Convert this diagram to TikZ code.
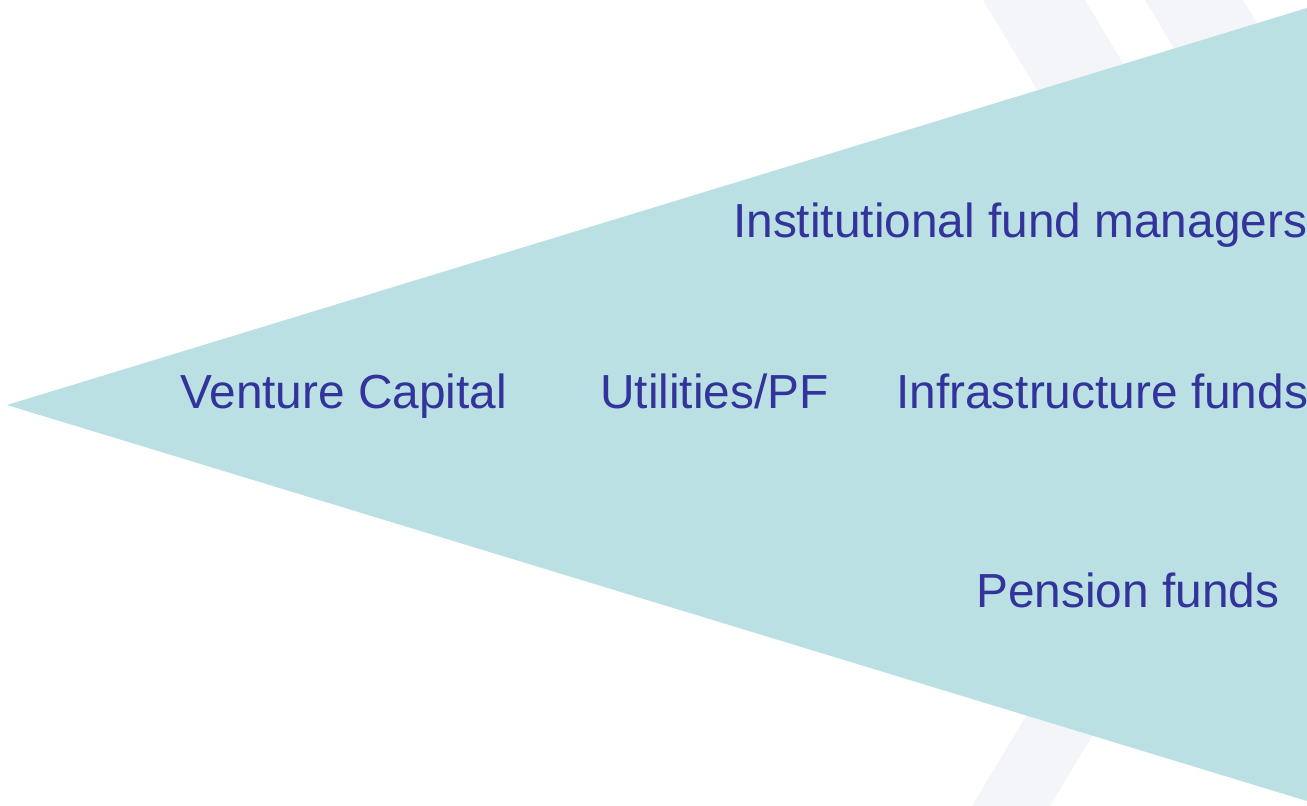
\documentclass[tikz,border=0pt]{standalone}
\usepackage{fontspec}
\setmainfont{Liberation Sans}
\definecolor{wedge}{HTML}{BAE0E3}
\definecolor{ink}{HTML}{33339C}
\definecolor{stripe}{HTML}{F4F5F9}
\begin{document}
\begin{tikzpicture}[x=1pt,y=-1pt,
  lbl/.style={anchor=base west,inner sep=0pt,text=ink,font=\fontsize{47.8}{57}\selectfont}]
\useasboundingbox (0,0) rectangle (1307,806);
\fill[white] (0,0) rectangle (1307,806);
% faint background chevron bands
\fill[stripe] (983,0) -- (1085,0) -- (1300,358) -- (1198,358) -- cycle;
\fill[stripe] (1145,0) -- (1243,0) -- (1307,107) -- (1307,270) -- cycle;
\fill[stripe] (972,806) -- (1050,806) -- (1300,390) -- (1222,390) -- cycle;
% wedge
\fill[wedge] (7,405) -- (1307,8) -- (1307,801) -- cycle;
% labels
\node[lbl] (vc) at (180,408) {Venture Capital};
\node[lbl] (ut) at (600,408) {Utilities/PF};
\node[lbl] (inf) at (896,408) {Infrastructure funds};
\node[lbl] (ifm) at (733,237) {Institutional fund managers};
\node[lbl] (pf) at (976,607) {Pension funds};
\end{tikzpicture}
\end{document}
